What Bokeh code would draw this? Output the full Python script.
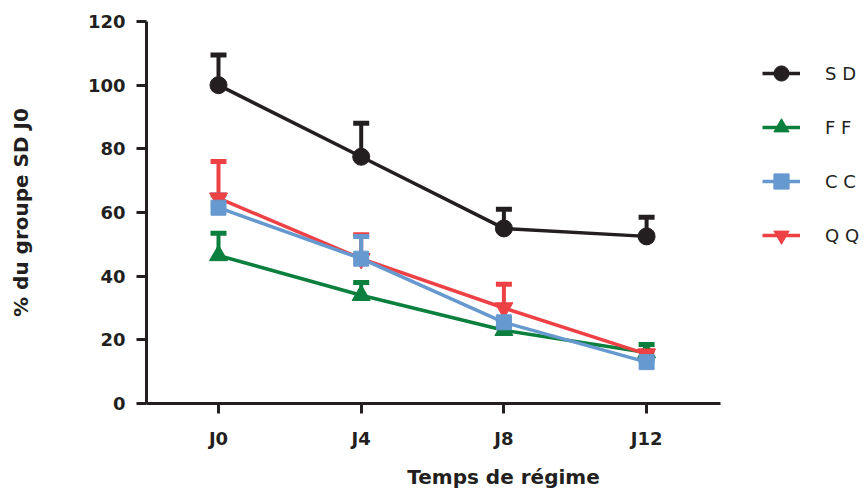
from bokeh.plotting import figure
from bokeh.models import (Whisker, ColumnDataSource, Legend, LegendItem, FixedTicker,
                          TeeHead, Range1d)
from bokeh.embed import file_html
from bokeh.resources import INLINE

x_labels = ["J0", "J4", "J8", "J12"]
sd = [100, 77.5, 55, 52.5]
sd_err = [9.5, 10.5, 6, 6]
ff = [46.5, 34, 23, 16]
ff_err = [7, 4, 1, 2.5]
cc = [61.5, 45.5, 25.5, 13]
cc_err = [4, 7, 1, 0.5]
qq = [64.5, 45.5, 30, 15.5]
qq_err = [11.5, 7.5, 7.5, 1]
y_ticks = [0, 20, 40, 60, 80, 100, 120]

series = [
    ("SD", sd, sd_err, "#231f20", "circle", 17),
    ("FF", ff, ff_err, "#0b7f3d", "triangle", 18),
    ("CC", cc, cc_err, "#6699cf", "square", 15),
    ("QQ", qq, qq_err, "#ee4145", "inverted_triangle", 18),
]
draw_order = ["FF", "QQ", "CC", "SD"]

FONT = "DejaVu Sans"
INK = "#231f20"

W, H = 860, 491
LEFT = 146
step = 142.7              # px per category step
x0 = -(218 - LEFT) / step
x1 = x0 + (W - LEFT) / step
axis_end = (720 - 218) / step

p = figure(width=W, height=H, output_backend="svg", toolbar_location=None,
           x_range=Range1d(x0, x1), y_range=Range1d(0, 120),
           min_border_left=LEFT, min_border_right=0, min_border_top=21,
           min_border_bottom=88)
p.outline_line_color = None
p.grid.visible = False
p.background_fill_color = "white"

xs = list(range(len(x_labels)))
renderers = {}
for name in draw_order:
    _, vals, errs, color, marker, size = next(s for s in series if s[0] == name)
    src = ColumnDataSource(dict(x=xs, y=vals, upper=[v + e for v, e in zip(vals, errs)]))
    w = Whisker(source=src, base="x", lower="y", upper="upper", dimension="height",
                line_color=color, line_width=4,
                upper_head=TeeHead(size=16, line_color=color, line_width=5),
                lower_head=None)
    p.add_layout(w)
    ln = p.line("x", "y", source=src, line_color=color, line_width=3.5)
    sc = p.scatter("x", "y", source=src, marker=marker, size=size,
                   fill_color=color, line_color=color)
    renderers[name] = [ln, sc]

items = [LegendItem(label=" ".join(list(s[0])), renderers=renderers[s[0]]) for s in series]
legend = Legend(items=items, location=(616, 148), margin=0, padding=0,
                glyph_width=38, glyph_height=40, label_height=20, spacing=14,
                label_standoff=25, border_line_color=None,
                background_fill_alpha=0,
                label_text_font=FONT, label_text_font_size="18px",
                label_text_color=INK)
p.add_layout(legend)

# axes
p.xaxis.ticker = FixedTicker(ticks=xs)
p.xaxis.major_label_overrides = {i: l for i, l in enumerate(x_labels)}
p.xaxis.bounds = (x0, axis_end)
p.yaxis.ticker = FixedTicker(ticks=y_ticks)
for ax in (p.xaxis, p.yaxis):
    ax.axis_line_width = 3
    ax.axis_line_color = INK
    ax.major_tick_line_width = 3
    ax.major_tick_line_color = INK
    ax.major_tick_out = 10
    ax.major_tick_in = 0
    ax.minor_tick_line_color = None
    ax.major_label_text_font = FONT
    ax.major_label_text_font_style = "bold"
    ax.major_label_text_font_size = "18px"
    ax.major_label_text_color = INK
    ax.axis_label_text_font = FONT
    ax.axis_label_text_font_style = "bold"
    ax.axis_label_text_font_size = "20px"
    ax.axis_label_text_color = INK

p.xaxis.axis_label = "Temps de régime"
p.yaxis.axis_label = "% du groupe SD J0"
p.xaxis.major_label_standoff = 14
p.xaxis.axis_label_standoff = 13
p.yaxis.major_label_standoff = 11
p.yaxis.axis_label_standoff = 52

open("out.html", "w").write(file_html(p, INLINE))
